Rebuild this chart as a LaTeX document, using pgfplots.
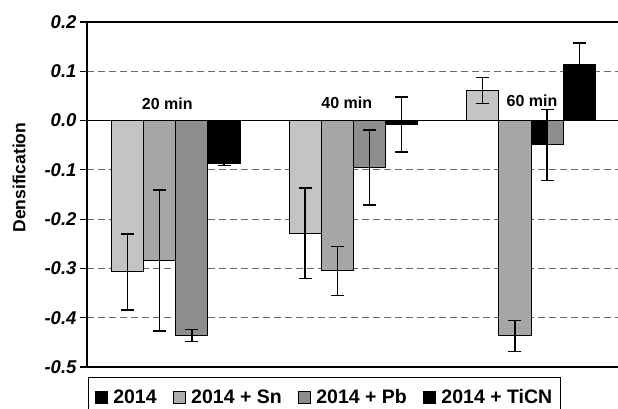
\documentclass[border=0pt]{standalone}
\usepackage{fontspec}
\setmainfont{Liberation Sans}
\usepackage{graphicx}
\usepackage{pgfplots}
\pgfplotsset{compat=1.18}
\definecolor{cA}{RGB}{196,196,196}
\definecolor{cB}{RGB}{166,166,166}
\definecolor{cC}{RGB}{142,142,142}
\definecolor{lB}{RGB}{172,172,172}
\definecolor{lC}{RGB}{140,140,140}
\definecolor{gridc}{RGB}{105,105,105}
\begin{document}
\begin{tikzpicture}
\useasboundingbox (0,0) rectangle (618pt,409pt);
\begin{axis}[
  at={(87pt,42pt)}, anchor=south west,
  scale only axis, width=531pt, height=345pt,
  xmin=-0.5, xmax=2.49, ymin=-0.5, ymax=0.2,
  clip=false,
  axis x line=box, axis y line=left,
  axis line style={-, black, line width=1.4pt},
  xtick=\empty,
  ytick={-0.5,-0.4,-0.3,-0.2,-0.1,0,0.1,0.2},
  tick align=outside, major tick length=7pt,
  ytick style={black, line width=1.2pt},
  ymajorgrids,
  major grid style={gridc, line width=1.1pt, dash pattern=on 7pt off 4pt},
  extra y ticks={0}, extra y tick labels={},
  extra y tick style={grid=major, major grid style={solid, black, line width=1pt}, major tick length=0pt},
  /pgf/number format/assume math mode=true,
  yticklabel={\pgfmathprintnumber[fixed, fixed zerofill, precision=1]{\tick}},
  yticklabel style={font=\fontsize{18.5}{20}\selectfont\bfseries\itshape},
  legend image code/.code={\draw[#1, draw=black, line width=0.6pt] (0pt,-6pt) rectangle (12pt,6pt);},
  legend style={at={(rel axis cs:0.002,-0.029)}, anchor=north west,
    legend columns=4, draw=black, line width=1.2pt,
    font=\fontsize{19.5}{21}\selectfont\bfseries,
    inner xsep=6pt, inner ysep=10pt,
    /tikz/every odd column/.append style={column sep=4pt},
    /tikz/every even column/.append style={column sep=14pt}},
]
\addlegendimage{fill=black}
\addlegendentry{2014}
\addlegendimage{fill=lB}
\addlegendentry{2014 + Sn}
\addlegendimage{fill=lC}
\addlegendentry{2014 + Pb}
\addlegendimage{fill=black}
\addlegendentry{2014 + TiCN}

\addplot[ybar, bar width=0.181, bar shift=-0.2715, fill=cA, draw=black, line width=0.9pt, forget plot]
  coordinates {(0,-0.307) (1,-0.229) (2,0.061)};
\addplot[ybar, bar width=0.181, bar shift=-0.0905, fill=cB, draw=black, line width=0.9pt, forget plot]
  coordinates {(0,-0.284) (1,-0.305) (2,-0.437)};
\addplot[ybar, bar width=0.181, bar shift=0.0905, fill=cC, draw=black, line width=0.9pt, forget plot]
  coordinates {(0,-0.436) (1,-0.095) (2,-0.049)};
\addplot[ybar, bar width=0.181, bar shift=0.2715, fill=black, draw=black, line width=0.9pt, forget plot]
  coordinates {(0,-0.088) (1,-0.008) (2,0.114)};
% left half of the 60 min third bar drawn black
\addplot[ybar, bar width=0.0905, bar shift=0.04525, fill=black, draw=black, line width=0.9pt, forget plot]
  coordinates {(2,-0.049)};
% error bars at the bar centres
\addplot[draw=none, mark=none, forget plot,
  error bars/.cd, y dir=both, y explicit,
  error bar style={draw=black, line width=1.4pt},
  error mark options={rotate=90, mark size=6.5pt, line width=1.4pt, draw=black}]
  coordinates {
  (-0.2715,-0.307) +- (0,0.077) (0.7285,-0.229) +- (0,0.092) (1.7285,0.061) +- (0,0.026)
  (-0.0905,-0.284) +- (0,0.143) (0.9095,-0.305) +- (0,0.050) (1.9095,-0.437) +- (0,0.031)
  (0.0905,-0.436) +- (0,0.012) (1.0905,-0.095) +- (0,0.076) (2.0905,-0.049) +- (0,0.072)
  (0.2715,-0.088) +- (0,0.003) (1.2715,-0.008) +- (0,0.056) (2.2715,0.114) +- (0,0.043)
  };

\node[font=\fontsize{16}{18}\selectfont\bfseries] at (axis cs:-0.048,0.034) {20 min};
\node[font=\fontsize{16}{18}\selectfont\bfseries] at (axis cs:0.963,0.037) {40 min};
\node[font=\fontsize{16}{18}\selectfont\bfseries] at (axis cs:2.006,0.041) {60 min};
\node[rotate=90, anchor=center, inner sep=0pt] at (rel axis cs:-0.128,0.549)
  {\resizebox{110pt}{!}{\fontsize{17.5}{19}\selectfont\bfseries Densification}};
\end{axis}
\end{tikzpicture}
\end{document}
